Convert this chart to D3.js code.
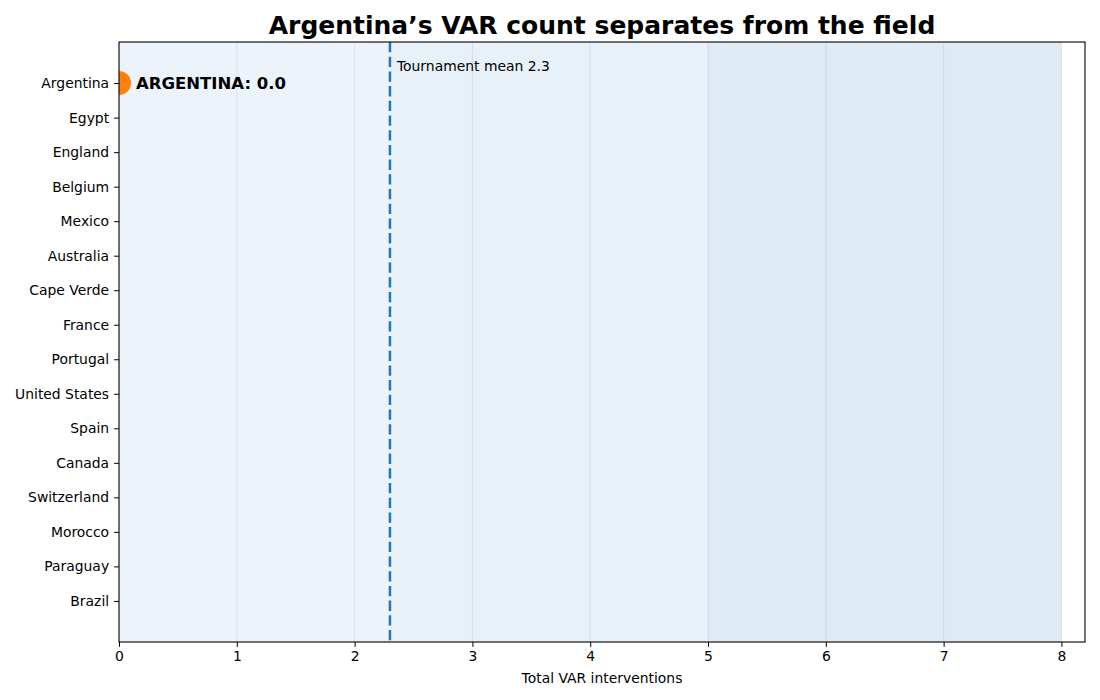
<!DOCTYPE html>
<html>
<head>
<meta charset="utf-8">
<script src="https://cdn.jsdelivr.net/npm/d3@7"></script>
<style>
  body { margin: 0; background: #fff; }
  svg { font-family: "DejaVu Sans", sans-serif; }
</style>
</head>
<body>
<div id="chart"></div>
<script>
// data
var countries = ["Argentina", "Egypt", "England", "Belgium", "Mexico", "Australia",
                 "Cape Verde", "France", "Portugal", "United States", "Spain", "Canada",
                 "Switzerland", "Morocco", "Paraguay", "Brazil"];
var highlightCountry = "Argentina";
var highlightValue = 0.0;
var meanValue = 2.3;
var xTicks = [0, 1, 2, 3, 4, 5, 6, 7, 8];
var bandStarts = [0, 2.3, 5];
var bandEnds = [2.3, 5, 8];
var bandColors = ["#ecf3fa", "#e8f0f8", "#deeaf4"];

var W = 1100, H = 700;
var margin = {top: 42, right: 15, bottom: 58, left: 119},
    width = W - margin.left - margin.right,
    height = H - margin.top - margin.bottom;

var svg = d3.select("#chart").append("svg")
    .attr("width", W)
    .attr("height", H);

svg.append("defs").append("clipPath")
    .attr("id", "plotclip")
  .append("rect")
    .attr("width", width)
    .attr("height", height);

var g = svg.append("g")
    .attr("transform", "translate(" + margin.left + "," + margin.top + ")");

var x = d3.scaleLinear().domain([0, 8.2]).range([0, width]);
// categorical positions, first country on top
var y = d3.scaleLinear().domain([-1.19, countries.length - 1 + 1.19]).range([0, height]);

var plot = g.append("g").attr("clip-path", "url(#plotclip)");

// shaded bands
plot.selectAll("rect.band")
    .data(bandStarts)
    .enter().append("rect")
    .attr("class", "band")
    .attr("x", function(d) { return x(d); })
    .attr("y", 0)
    .attr("width", function(d, i) { return x(bandEnds[i]) - x(d); })
    .attr("height", height)
    .attr("fill", function(d, i) { return bandColors[i]; });

// vertical grid
plot.selectAll("line.grid")
    .data(xTicks)
    .enter().append("line")
    .attr("class", "grid")
    .attr("x1", function(d) { return x(d); })
    .attr("x2", function(d) { return x(d); })
    .attr("y1", 0)
    .attr("y2", height)
    .attr("stroke", "#b0b8c0")
    .attr("stroke-opacity", 0.3)
    .attr("stroke-width", 1);

// mean line
plot.append("line")
    .attr("x1", x(meanValue))
    .attr("x2", x(meanValue))
    .attr("y1", 0)
    .attr("y2", height)
    .attr("stroke", "#1f77b4")
    .attr("stroke-width", 2.5)
    .attr("stroke-dasharray", "10.3,4.4");

// highlighted point
var hi = countries.indexOf(highlightCountry);
plot.append("circle")
    .attr("cx", x(highlightValue))
    .attr("cy", y(hi))
    .attr("r", 12)
    .attr("fill", "#ff7f0e");

g.append("text")
    .attr("x", x(highlightValue) + 17)
    .attr("y", y(hi))
    .attr("dy", "0.36em")
    .attr("font-size", "16.5px")
    .attr("font-weight", "bold")
    .text(highlightCountry.toUpperCase() + ": " + highlightValue.toFixed(1));

g.append("text")
    .attr("x", x(meanValue) + 7)
    .attr("y", 29)
    .attr("font-size", "13.9px")
    .text("Tournament mean " + meanValue);

// axes
var xAxis = g.append("g")
    .attr("transform", "translate(0," + height + ")")
    .call(d3.axisBottom(x).tickValues(xTicks).tickSize(4.9).tickPadding(4).tickFormat(d3.format("d")));
xAxis.select(".domain").remove();
xAxis.selectAll("text").attr("font-size", "13.9px").attr("font-family", "DejaVu Sans").attr("fill", "#000");

var yAxis = g.append("g")
    .call(d3.axisLeft(y).tickValues(d3.range(countries.length)).tickSize(4.9).tickPadding(5)
      .tickFormat(function(i) { return countries[i]; }));
yAxis.select(".domain").remove();
yAxis.selectAll("text").attr("font-size", "13.9px").attr("font-family", "DejaVu Sans").attr("fill", "#000");

// frame
g.append("rect")
    .attr("width", width)
    .attr("height", height)
    .attr("fill", "none")
    .attr("stroke", "#000")
    .attr("stroke-width", 1.1);

// title & label
svg.append("text")
    .attr("x", margin.left + width / 2)
    .attr("y", 34)
    .attr("text-anchor", "middle")
    .attr("font-size", "25px")
    .attr("font-weight", "bold")
    .text("Argentina\u2019s VAR count separates from the field");

svg.append("text")
    .attr("x", margin.left + width / 2)
    .attr("y", 683)
    .attr("text-anchor", "middle")
    .attr("font-size", "13.9px")
    .text("Total VAR interventions");
</script>
</body>
</html>
